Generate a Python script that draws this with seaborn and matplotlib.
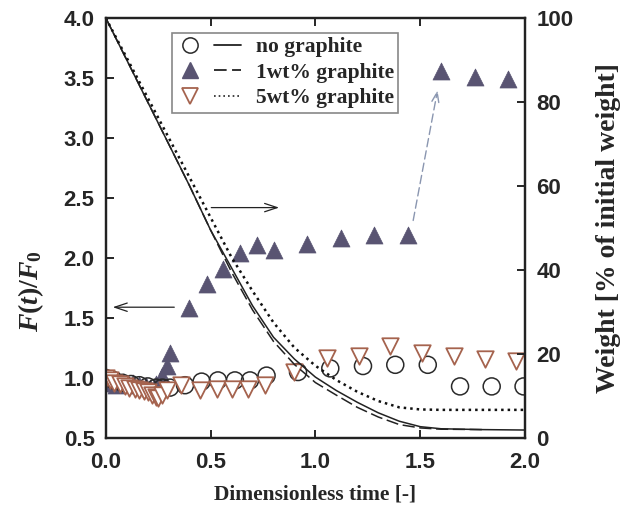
import matplotlib
matplotlib.use("Agg")
import matplotlib.pyplot as plt
import numpy as np
import pandas as pd
import seaborn as sns
from matplotlib.lines import Line2D
from matplotlib.legend_handler import HandlerTuple

# F(t)/F0 measurements (left axis)
t_none = [0.00, 0.04, 0.08, 0.12, 0.16, 0.20, 0.24, 0.27, 0.306, 0.378, 0.457, 0.535,
          0.616, 0.688, 0.767, 0.917, 1.071, 1.227, 1.381, 1.536, 1.690, 1.841, 1.993]
f_none = [1.00, 0.98, 0.96, 0.95, 0.94, 0.93, 0.92, 0.92, 0.92, 0.94, 0.97, 0.98,
          0.98, 0.98, 1.02, 1.05, 1.08, 1.10, 1.11, 1.11, 0.93, 0.93, 0.93]

t_1wt = [0.00, 0.03, 0.05, 0.08, 0.10, 0.13, 0.16, 0.19, 0.21, 0.24, 0.27, 0.29, 0.306,
         0.398, 0.481, 0.560, 0.640, 0.720, 0.802, 0.960, 1.121, 1.279, 1.441, 1.600,
         1.759, 1.920]
f_1wt = [1.00, 0.96, 0.94, 0.97, 0.95, 0.96, 0.94, 0.93, 0.92, 0.95, 1.02, 1.10, 1.21,
         1.58, 1.78, 1.91, 2.04, 2.11, 2.07, 2.12, 2.17, 2.19, 2.19, 3.56, 3.51, 3.49]

t_5wt = [0.00, 0.02, 0.04, 0.07, 0.09, 0.11, 0.14, 0.16, 0.18, 0.20, 0.22, 0.24, 0.25,
         0.27, 0.29, 0.36, 0.45, 0.53, 0.60, 0.68, 0.76, 0.90, 1.055, 1.208, 1.357,
         1.508, 1.659, 1.810, 1.957]
f_5wt = [1.00, 0.98, 0.96, 0.95, 0.93, 0.92, 0.91, 0.90, 0.89, 0.88, 0.86, 0.84, 0.83,
         0.86, 0.90, 0.94, 0.90, 0.91, 0.91, 0.91, 0.94, 1.05, 1.17, 1.18, 1.27,
         1.21, 1.18, 1.16, 1.14]

# weight curves (right axis)
tw = [0.0, 0.1, 0.2, 0.3, 0.4, 0.5, 0.6, 0.7, 0.8, 0.9, 1.0, 1.1, 1.2, 1.3, 1.4, 1.5, 1.6, 1.8, 2.0]
w_none = [100, 90, 80, 70, 60, 49.5, 40.5, 31.5, 24, 18.8, 14.5, 11.3, 8.5, 6, 4, 2.7, 2.2, 2.0, 1.9]
w_1wt = [100, 90, 80, 70, 60, 49.5, 39.5, 30.5, 23, 17.5, 13.2, 10.2, 7.3, 5, 3.2, 2.4, 2.1, 2.0, np.nan]
w_5wt = [100, 90.5, 81, 71.5, 62, 52.5, 43, 35, 27.5, 21.5, 17.2, 13.8, 11, 8.8, 7.3, 6.8, 6.7, 6.7, 6.7]

col_tri = "#595472"
col_inv = "#a5634e"
col_circ = "#2a2a2a"

sns.set_style("ticks")
plt.rcParams["font.family"] = ["Liberation Sans", "DejaVu Sans"]
plt.rcParams["font.weight"] = "bold"
plt.rcParams["mathtext.fontset"] = "custom"
plt.rcParams["mathtext.it"] = "Liberation Serif:italic:bold"
plt.rcParams["mathtext.rm"] = "Liberation Serif:bold"

fig = plt.figure(figsize=(6.26, 5.29), dpi=100)
ax = fig.add_axes([0.169, 0.172, 0.6697, 0.794])

sns.scatterplot(x=t_none, y=f_none, ax=ax, marker="o", s=150, facecolor="none",
                edgecolor=col_circ, linewidth=1.1, zorder=3)
sns.scatterplot(x=t_5wt, y=f_5wt, ax=ax, marker="v", s=140, facecolor="white",
                edgecolor=col_inv, linewidth=1.3, zorder=3)
sns.scatterplot(x=t_1wt, y=f_1wt, ax=ax, marker="^", s=150, color=col_tri,
                edgecolor=col_tri, linewidth=0.5, zorder=2)

ax.set_xlim(0, 2.0)
ax.set_ylim(0.5, 4.0)
ax.set_xticks([0.0, 0.5, 1.0, 1.5, 2.0])
ax.set_yticks([0.5, 1.0, 1.5, 2.0, 2.5, 3.0, 3.5, 4.0])
ax.set_xticklabels(["0.0", "0.5", "1.0", "1.5", "2.0"])
ax.set_yticklabels(["0.5", "1.0", "1.5", "2.0", "2.5", "3.0", "3.5", "4.0"])
ax.tick_params(direction="in", length=6, width=1.4, labelsize=16, top=True)
ax.tick_params(axis="y", pad=8)
ax.tick_params(axis="x", pad=10)
ax.set_xlabel("Dimensionless time [-]", family="Liberation Serif", fontweight="bold",
              fontsize=15.5, labelpad=8)
ax.set_ylabel(r"$F(t)/F_0$", fontsize=20)
ax.yaxis.set_label_coords(-0.142, 0.35)

ax2 = ax.twinx()
curves = pd.DataFrame({"t": tw, "none": w_none, "one": w_1wt, "five": w_5wt})
sns.lineplot(data=curves, x="t", y="none", ax=ax2, color="#222222", lw=1.1)
sns.lineplot(data=curves, x="t", y="one", ax=ax2, color="#222222", lw=1.1,
             linestyle=(0, (8, 3)))
sns.lineplot(data=curves, x="t", y="five", ax=ax2, color="#111111", lw=1.8,
             linestyle=(0, (1, 1.6)))
ax2.set_ylim(0, 100)
ax2.set_yticks([0, 20, 40, 60, 80, 100])
ax2.tick_params(direction="in", length=6, width=1.4, labelsize=16, pad=8)
ax2.set_ylabel("Weight [% of initial weight]", family="Liberation Serif",
               fontweight="bold", fontsize=20)
ax2.yaxis.set_label_coords(1.17, 0.5)

for a in (ax, ax2):
    for s in a.spines.values():
        s.set_linewidth(1.6)
        s.set_color("#222222")

# arrows pointing to the axis each data set belongs to
ax.annotate("", xy=(0.02, 1.59), xytext=(0.34, 1.59),
            arrowprops=dict(arrowstyle="->,head_length=0.9,head_width=0.3", lw=0.9, color="#222222"))
ax.annotate("", xy=(0.84, 2.42), xytext=(0.49, 2.42),
            arrowprops=dict(arrowstyle="->,head_length=0.9,head_width=0.3", lw=0.9, color="#222222"))
ax.annotate("", xy=(1.585, 3.42), xytext=(1.464, 2.29),
            arrowprops=dict(arrowstyle="->,head_length=0.7,head_width=0.25", lw=1.0,
                            color="#8a96b0", linestyle=(0, (6, 3))))

h_none = (Line2D([], [], marker="o", ls="none", ms=11, mfc="none", mec=col_circ, mew=1.1),
          Line2D([], [], color="#222222", lw=1.3))
h_1wt = (Line2D([], [], marker="^", ls="none", ms=11, mfc=col_tri, mec=col_tri),
         Line2D([], [], color="#222222", lw=1.3, ls=(0, (7, 3))))
h_5wt = (Line2D([], [], marker="v", ls="none", ms=11, mfc="white", mec=col_inv, mew=1.3),
         Line2D([], [], color="#222222", lw=1.2, ls=(0, (1, 1.8))))
leg = ax2.legend([h_none, h_1wt, h_5wt], ["no graphite", "1wt% graphite", "5wt% graphite"],
                 handler_map={tuple: HandlerTuple(ndivide=None, pad=0.5)},
                 loc="upper left", bbox_to_anchor=(0.158, 0.964), handlelength=3.0,
                 prop={"family": "Liberation Serif", "weight": "bold", "size": 15.5},
                 frameon=True, fancybox=False, edgecolor="#888888", framealpha=1,
                 borderpad=0.2, labelspacing=0.25, handletextpad=0.7, borderaxespad=0)
leg.get_frame().set_linewidth(1.2)

fig.savefig("out.png", dpi=100)
